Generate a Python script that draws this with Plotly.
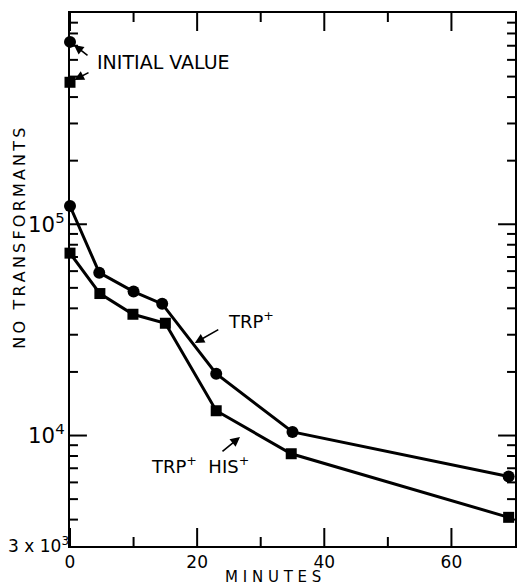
import plotly.graph_objects as go

# ---- data ----
t_trp = [0, 4.6, 10, 14.5, 23, 35, 69]
n_trp = [1.22e5, 5.9e4, 4.8e4, 4.2e4, 1.96e4, 1.04e4, 6.4e3]
t_his = [0, 4.7, 9.9, 15, 23, 34.8, 69]
n_his = [7.3e4, 4.7e4, 3.75e4, 3.4e4, 1.31e4, 8.2e3, 4.1e3]
init_t = [0]
init_trp = [7.3e5]
init_his = [4.7e5]

# tick values
x_major = [0, 20, 40, 60]
x_minor = [10, 30, 50]
y_major = [1e4, 1e5]
y_minor = [4e3, 5e3, 6e3, 7e3, 8e3, 9e3,
           2e4, 3e4, 4e4, 5e4, 6e4, 7e4, 8e4, 9e4,
           2e5, 3e5, 4e5, 5e5, 6e5, 7e5, 8e5, 9e5]
bottom_tick = [3e3]
bottom_tick_text = ["3 x 10<sup>3</sup>"]

FONT = "DejaVu Sans"
BLK = "black"
X_RANGE = [0, 70]
Y_RANGE = [3.4771, 6.0]
PLOT_W, PLOT_H = 447, 533
MAJ_LEN, MIN_LEN = 18, 9

fig = go.Figure()
fig.add_trace(go.Scatter(x=t_trp, y=n_trp, mode="lines+markers",
                         line=dict(color=BLK, width=3),
                         marker=dict(symbol="circle", size=12, color=BLK),
                         cliponaxis=False, showlegend=False))
fig.add_trace(go.Scatter(x=t_his, y=n_his, mode="lines+markers",
                         line=dict(color=BLK, width=3),
                         marker=dict(symbol="square", size=11, color=BLK),
                         cliponaxis=False, showlegend=False))
fig.add_trace(go.Scatter(x=init_t, y=init_trp, mode="markers",
                         marker=dict(symbol="circle", size=12, color=BLK),
                         cliponaxis=False, showlegend=False))
fig.add_trace(go.Scatter(x=init_t, y=init_his, mode="markers",
                         marker=dict(symbol="square", size=11, color=BLK),
                         cliponaxis=False, showlegend=False))
fig.add_trace(go.Scatter(x=[None], y=[None], xaxis="x", yaxis="y2",
                         mode="markers", showlegend=False, hoverinfo="skip"))

fig.update_layout(
    width=521, height=585,
    margin=dict(l=70, r=4, t=13, b=39),
    paper_bgcolor="white", plot_bgcolor="white",
    font=dict(family=FONT, size=18, color=BLK),
    xaxis=dict(range=X_RANGE, showgrid=False, zeroline=False,
               showline=True, linewidth=2, linecolor=BLK, mirror=True,
               ticks="", tickmode="linear", tick0=0, dtick=20,
               tickfont=dict(size=17)),
    yaxis=dict(type="log", range=Y_RANGE, showgrid=False, zeroline=False,
               showline=True, linewidth=2, linecolor=BLK, mirror=True,
               ticks="", tickmode="linear", tick0=0, dtick=1,
               exponentformat="power", showexponent="all",
               tickfont=dict(size=17)),
    yaxis2=dict(type="log", range=Y_RANGE, overlaying="y", anchor="x", side="left",
                showgrid=False, zeroline=False, showline=False, ticks="",
                tickmode="array", tickvals=bottom_tick, ticktext=bottom_tick_text,
                tickfont=dict(size=17)),
)

# tick marks (inside, on all four sides) placed through the axes' scales
shapes = []
for vals, ln in ((x_major, MAJ_LEN), (x_minor, MIN_LEN)):
    f = ln / PLOT_H
    for v in vals:
        shapes.append(dict(type="line", xref="x", yref="y domain", x0=v, x1=v,
                           y0=0, y1=f, layer="above", line=dict(color=BLK, width=2)))
        shapes.append(dict(type="line", xref="x", yref="y domain", x0=v, x1=v,
                           y0=1, y1=1 - f, layer="above", line=dict(color=BLK, width=2)))
for vals, ln in ((y_major, MAJ_LEN - 1), (y_minor, MIN_LEN - 1)):
    f = ln / PLOT_W
    for v in vals:
        shapes.append(dict(type="line", xref="x domain", yref="y", x0=0, x1=f,
                           y0=v, y1=v, layer="above", line=dict(color=BLK, width=2)))
        shapes.append(dict(type="line", xref="x domain", yref="y", x0=1, x1=1 - f,
                           y0=v, y1=v, layer="above", line=dict(color=BLK, width=2)))
fig.update_layout(shapes=shapes)

anns = [
    dict(text="\u2009".join("NO TRANSFORMANTS"), xref="paper", yref="paper",
         x=-0.114, y=0.577, textangle=-90, showarrow=False,
         font=dict(size=16), xanchor="center", yanchor="middle"),
    dict(text=" ".join("MINUTES"), xref="paper", yref="paper",
         x=0.456, y=-0.059, showarrow=False, font=dict(size=15),
         xanchor="center", yanchor="middle"),
    dict(text="INITIAL VALUE", x=3.9, y=5.768, xref="x", yref="y",
         showarrow=False, xanchor="left", yanchor="middle", font=dict(size=19)),
    dict(text=" ", x=0, y=5.8633, xref="x", yref="y", showarrow=True,
         ax=22, ay=17, arrowhead=2, arrowsize=1.2, arrowwidth=1.6,
         arrowcolor=BLK, standoff=5),
    dict(text=" ", x=0, y=5.6721, xref="x", yref="y", showarrow=True,
         ax=23, ay=-12, arrowhead=2, arrowsize=1.2, arrowwidth=1.6,
         arrowcolor=BLK, standoff=5),
    dict(text="TRP<sup>+</sup>", x=24.6, y=4.546, xref="x", yref="y",
         showarrow=False, xanchor="left", yanchor="middle", font=dict(size=18)),
    dict(text=" ", x=19.63, y=4.438, xref="x", yref="y", showarrow=True,
         ax=28, ay=-16, arrowhead=2, arrowsize=1.2, arrowwidth=1.6,
         arrowcolor=BLK),
    dict(text="TRP<sup>+</sup>  HIS<sup>+</sup>", x=12.46, y=3.859, xref="x", yref="y",
         showarrow=False, xanchor="left", yanchor="middle", font=dict(size=18)),
    dict(text=" ", x=26.74, y=3.993, xref="x", yref="y", showarrow=True,
         ax=-22, ay=18, arrowhead=2, arrowsize=1.2, arrowwidth=1.6,
         arrowcolor=BLK),
]
fig.update_layout(annotations=anns)

fig.write_html("out.html")
